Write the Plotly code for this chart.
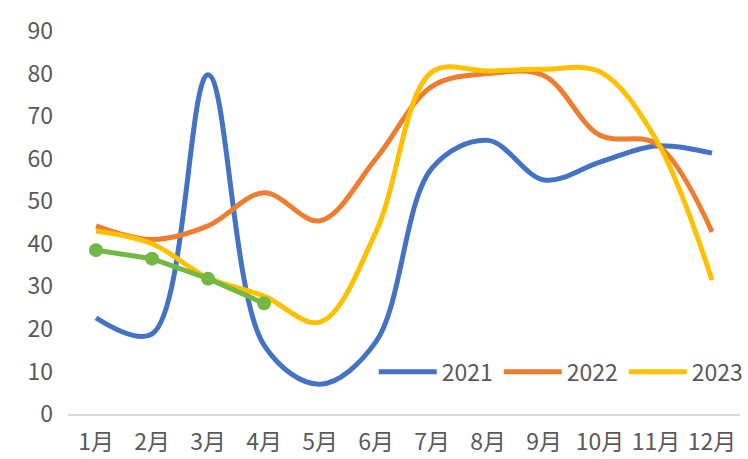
import plotly.graph_objects as go

months = ["1月", "2月", "3月", "4月", "5月", "6月", "7月", "8月", "9月", "10月", "11月", "12月"]
s2021 = [22.6, 18.8, 79.7, 16.2, 7.0, 17.0, 57.8, 64.3, 55.0, 59.2, 63.0, 61.3]
s2022 = [44.2, 41.0, 44.2, 52.0, 45.4, 60.0, 77.0, 80.0, 79.5, 65.5, 63.5, 42.8]
s2023 = [43.0, 40.0, 32.0, 27.7, 21.6, 42.8, 80.4, 80.6, 81.0, 80.4, 64.5, 31.5]
s2024 = [38.5, 36.5, 31.8, 26.0]

FONT = "Noto Sans CJK SC, Noto Sans, sans-serif"
GREY = "#595959"
FS = 23

fig = go.Figure()
fig.add_trace(go.Scatter(x=months, y=s2021, name="2021", mode="lines",
                         line=dict(color="#4472C4", width=5, shape="spline", smoothing=1.0)))
fig.add_trace(go.Scatter(x=months, y=s2022, name="2022", mode="lines",
                         line=dict(color="#ED7D31", width=5, shape="spline", smoothing=1.0)))
fig.add_trace(go.Scatter(x=months, y=s2023, name="2023", mode="lines",
                         line=dict(color="#FFC000", width=5, shape="spline", smoothing=1.0)))
fig.add_trace(go.Scatter(x=months[:4], y=s2024, name="2024", mode="lines+markers",
                         showlegend=False,
                         line=dict(color="#72B843", width=5),
                         marker=dict(color="#72B843", size=14)))

fig.update_layout(
    width=748, height=459,
    margin=dict(l=68, r=8, t=31, b=45, autoexpand=False),
    paper_bgcolor="white", plot_bgcolor="white",
    font=dict(family=FONT, size=FS, color=GREY),
    legend=dict(orientation="h", x=0.455, xanchor="left", y=0.11, yanchor="middle",
                font=dict(size=FS, color=GREY), bgcolor="rgba(0,0,0,0)",
                itemwidth=58, tracegroupgap=0, entrywidth=52, entrywidthmode="pixels"),
    xaxis=dict(type="category", range=[-0.5, 11.5], showgrid=False, automargin=False,
               showline=True, linecolor="#D9D9D9", linewidth=1.5,
               ticks="", ticklabelstandoff=7, tickfont=dict(size=FS, color=GREY)),
    yaxis=dict(range=[0, 90], dtick=10, showgrid=False, zeroline=False, automargin=False,
               showline=False, ticks="", ticklabelstandoff=14,
               tickfont=dict(size=FS, color=GREY)),
)

fig.write_html("out.html")
